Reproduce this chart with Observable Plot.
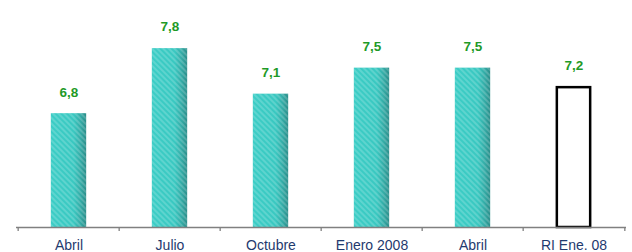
<!DOCTYPE html>
<html>
<head>
<meta charset="utf-8">
<script src="https://cdn.jsdelivr.net/npm/d3@7"></script>
<script src="https://cdn.jsdelivr.net/npm/@observablehq/plot@0.6"></script>
<style>
  html, body { margin: 0; padding: 0; background: #fff; }
  #chart { width: 632px; height: 252px; overflow: hidden; }
</style>
</head>
<body>
<div id="chart"></div>
<script>
const categories = ["Abril", "Julio", "Octubre", "Enero 2008", "Abril", "RI Ene. 08"];
const values = [6.8, 7.8, 7.1, 7.5, 7.5, 7.2];
const isProjection = [false, false, false, false, false, true];

const yMin = 5.05, yMax = 8.54;
const data = values.map((v, i) => ({i, v, label: d3.format(".1f")(v).replace(".", ","), proj: isProjection[i]}));
const observed = data.filter(d => !d.proj);
const projected = data.filter(d => d.proj);

const W = 632, H = 252, mL = 16, mR = 6, mB = 25;
const step = (W - mL - mR) / categories.length;
const inset = (step - 36) / 2;

const font = "'Liberation Sans', Arial, sans-serif";

const svg = Plot.plot({
  width: W, height: H,
  marginLeft: mL, marginRight: mR, marginTop: 0, marginBottom: mB,
  style: {fontFamily: font, background: "white", overflow: "visible"},
  x: {type: "band", domain: d3.range(categories.length), padding: 0, axis: null, label: null},
  y: {domain: [yMin, yMax], axis: null, label: null},
  marks: [
    Plot.barY(observed, {x: "i", y1: yMin, y2: "v", fill: "url(#barGrad)", insetLeft: inset, insetRight: inset}),
    Plot.barY(observed, {x: "i", y1: yMin, y2: "v", fill: "url(#barStripes)", insetLeft: inset, insetRight: inset}),
    Plot.barY(projected, {x: "i", y1: yMin, y2: "v", fill: "white", stroke: "black", strokeWidth: 2.5, insetLeft: inset + 1, insetRight: inset + 1}),
    Plot.ruleY([yMin], {stroke: "#808080", strokeWidth: 1.5}),
    Plot.axisX({ticks: d3.range(categories.length), tickSize: 4, tickFormat: () => "", label: null, dx: -step / 2, stroke: "#808080", strokeWidth: 1.3}),
    Plot.axisX({ticks: [categories.length - 1], tickSize: 4, tickFormat: () => "", label: null, dx: step / 2, stroke: "#808080", strokeWidth: 1.3}),
    Plot.text(data, {x: "i", text: d => categories[d.i], frameAnchor: "bottom", lineAnchor: "top", dy: 13, fill: "#1f3a6e", fontSize: 14}),
    Plot.text(data, {x: "i", y: "v", text: "label", lineAnchor: "middle", dy: -21.5, fill: "#1f9a28", fontWeight: "bold", fontSize: 13.5})
  ]
});

svg.insertAdjacentHTML("afterbegin", `
<defs>
  <linearGradient id="barGrad" x1="0" y1="0" x2="1" y2="0">
    <stop offset="0" stop-color="#3ccdc6"/>
    <stop offset="0.65" stop-color="#3ac8c1"/>
    <stop offset="0.85" stop-color="#33aaa5"/>
    <stop offset="1" stop-color="#2a8d89"/>
  </linearGradient>
  <pattern id="barStripes" patternUnits="userSpaceOnUse" width="4" height="4" patternTransform="rotate(-45)">
    <rect x="0" y="0" width="2" height="4" fill="white" fill-opacity="0.18"/>
  </pattern>
</defs>`);

document.getElementById("chart").appendChild(svg);
</script>
</body>
</html>
